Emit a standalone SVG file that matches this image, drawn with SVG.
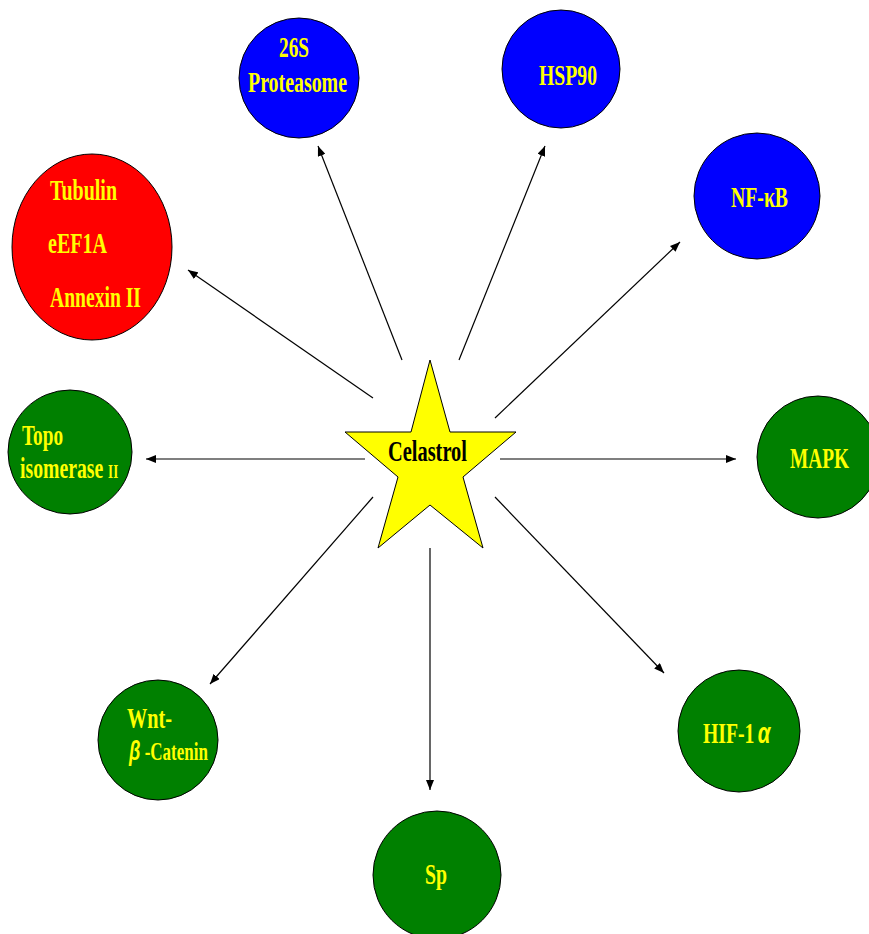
<svg xmlns="http://www.w3.org/2000/svg" width="869" height="934" viewBox="0 0 869 934">
<style>
.c{stroke:#000;stroke-width:1}
.t{font-family:"Liberation Serif","Times New Roman",serif;font-weight:bold;font-size:29px;fill:#FFFF00}
.s{font-size:19px}
.g{font-family:"Liberation Sans","DejaVu Sans",sans-serif;font-style:italic;font-weight:bold}
.k{fill:#000}
.a{stroke:#000;stroke-width:1.2;fill:none;marker-end:url(#ah)}
</style>
<defs>
<marker id="ah" markerUnits="userSpaceOnUse" markerWidth="10" markerHeight="8" refX="10" refY="4" orient="auto">
<path d="M0,0 L10,4 L0,8 z" fill="#000"/>
</marker>
</defs>
<rect width="869" height="934" fill="#fff"/>
<g id="connectors">
<line class="a" x1="402" y1="360" x2="318" y2="146"/>
<line class="a" x1="459" y1="360" x2="545" y2="146"/>
<line class="a" x1="495" y1="418" x2="680" y2="242"/>
<line class="a" x1="373" y1="398" x2="188" y2="270"/>
<line class="a" x1="365" y1="459" x2="146" y2="459"/>
<line class="a" x1="500" y1="459" x2="736" y2="459"/>
<line class="a" x1="495" y1="497" x2="664" y2="673"/>
<line class="a" x1="430" y1="548" x2="430" y2="790"/>
<line class="a" x1="373" y1="497" x2="210" y2="684"/>
</g>
<g id="celastrol">
<polygon class="c" fill="#FFFF00" points="430,360 450,432 516,432 463,477 483,548 430,505 378,548 398,477 345,432 411,432"/>
<text class="t k" x="388" y="461" textLength="79" lengthAdjust="spacingAndGlyphs">Celastrol</text>
</g>
<g id="proteasome">
<circle class="c" cx="299" cy="78" r="60" fill="#0000FF"/>
<text class="t" x="279" y="57" textLength="30" lengthAdjust="spacingAndGlyphs">26S</text>
<text class="t" x="248" y="92" textLength="99" lengthAdjust="spacingAndGlyphs">Proteasome</text>
</g>
<g id="hsp90">
<circle class="c" cx="561" cy="69" r="59" fill="#0000FF"/>
<text class="t" x="539" y="85" textLength="58" lengthAdjust="spacingAndGlyphs">HSP90</text>
</g>
<g id="nfkb">
<circle class="c" cx="757" cy="196" r="63" fill="#0000FF"/>
<text class="t" x="731" y="207" textLength="57" lengthAdjust="spacingAndGlyphs">NF-κB</text>
</g>
<g id="tubulin">
<ellipse class="c" cx="92" cy="247" rx="80" ry="93" fill="#FF0000"/>
<text class="t" x="50" y="200" textLength="67" lengthAdjust="spacingAndGlyphs">Tubulin</text>
<text class="t" x="48" y="253" textLength="59" lengthAdjust="spacingAndGlyphs">eEF1A</text>
<text class="t" x="50" y="307" textLength="91" lengthAdjust="spacingAndGlyphs">Annexin II</text>
</g>
<g id="topo">
<circle class="c" cx="70" cy="452" r="62" fill="#008000"/>
<text class="t" x="22" y="445" textLength="41" lengthAdjust="spacingAndGlyphs">Topo</text>
<text class="t" x="20" y="478" transform="translate(20 0) scale(0.68 1) translate(-20 0)">isomerase <tspan class="s">II</tspan></text>
</g>
<g id="mapk">
<circle class="c" cx="818" cy="457" r="61" fill="#008000"/>
<text class="t" x="790" y="468" textLength="59" lengthAdjust="spacingAndGlyphs">MAPK</text>
</g>
<g id="hif">
<circle class="c" cx="739" cy="731" r="61" fill="#008000"/>
<text class="t" x="703" y="743" transform="translate(703 0) scale(0.68 1) translate(-703 0)">HIF-1<tspan class="g" style="font-size:30px" dx="5">α</tspan></text>
</g>
<g id="sp">
<circle class="c" cx="437" cy="875" r="64" fill="#008000"/>
<text class="t" x="425" y="884" textLength="22" lengthAdjust="spacingAndGlyphs">Sp</text>
</g>
<g id="wnt">
<circle class="c" cx="158" cy="740" r="60" fill="#008000"/>
<text class="t" x="127" y="728" textLength="45" lengthAdjust="spacingAndGlyphs">Wnt-</text>
<text class="t" x="129" y="760" style="font-size:25px" transform="translate(129 0) scale(0.68 1) translate(-129 0)"><tspan class="g" style="font-size:27px">β</tspan> -Catenin</text>
</g>
</svg>
